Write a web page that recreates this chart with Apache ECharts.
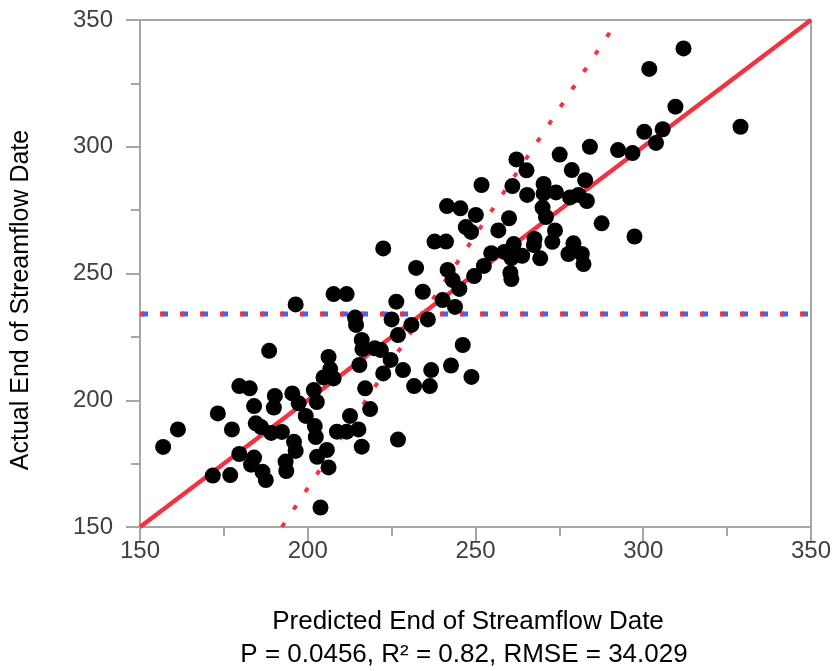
<!DOCTYPE html>
<html>
<head>
<meta charset="utf-8">
<script src="https://cdn.jsdelivr.net/npm/echarts@6/dist/echarts.min.js"></script>
<style>
html,body{margin:0;padding:0;background:#fff;}
#chart{width:834px;height:671px;}
</style>
</head>
<body>
<div id="chart"></div>
<script>
// Predicted (x) and Actual (y) end of streamflow dates
var predicted = [
 156.9,161.3,173.2,171.7,176.9,177.4,179.6,182.7,188.5,179.6,184.0,183.1,186.5,187.5,184.0,184.5,186.1,189.1,192.3,190.2,189.9,195.4,197.3,196.4,193.4,193.6,195.9,196.4,199.4,
 201.8,202.7,202.1,202.4,202.8,205.7,206.2,203.8,208.7,211.6,215.1,212.6,217.1,218.6,216.1,226.9,231.7,236.4,248.8,
 222.5,237.8,241.2,248.7,247.1,250.1,251.8,241.5,245.5,232.3,241.7,243.2,249.6,245.2,234.3,207.7,211.6,226.4,240.2,243.9,214.1,214.4,225.0,230.9,235.8,226.9,216.1,216.3,220.0,221.8,246.2,206.2,215.4,224.7,228.4,222.5,236.8,242.7,206.7,204.7,207.7,
 284.1,292.5,296.8,275.1,262.2,265.2,278.7,282.7,261.0,270.3,265.4,274.0,270.3,278.2,280.7,283.2,270.0,271.0,260.0,256.8,273.7,272.9,267.6,267.4,261.4,254.7,258.6,260.7,263.9,269.3,279.2,277.7,281.7,282.2,260.4,260.7,252.5,287.6,297.4,
 312.0,301.8,309.6,300.3,305.8,303.8,329.0
];
var actual = [
 181.6,188.5,194.8,170.3,170.5,188.5,205.6,204.7,219.5,178.8,177.4,174.6,171.8,168.5,197.7,190.9,189.4,187.1,187.5,201.7,197.1,202.7,198.8,237.8,175.8,172.1,183.6,180.0,193.8,
 204.0,199.3,189.8,185.5,177.7,180.4,173.5,157.7,187.6,187.6,188.5,193.8,204.7,196.5,181.7,184.5,205.6,205.6,209.2,
 259.9,262.6,262.6,266.4,268.3,273.1,284.9,276.6,275.7,252.2,251.4,247.4,249.0,243.9,242.8,241.9,241.9,238.9,239.5,236.8,232.6,229.7,231.9,229.7,231.9,225.7,223.8,220.2,220.5,219.8,221.8,217.1,213.9,215.9,211.9,210.6,211.9,213.7,212.3,209.0,208.6,
 300.0,298.7,297.5,296.9,295.0,290.7,290.8,286.8,284.5,285.3,281.0,282.0,281.6,280.0,281.0,278.6,276.0,272.3,271.8,267.0,267.0,262.5,263.6,261.2,261.6,258.0,258.5,256.1,257.0,256.0,261.9,257.7,257.7,253.7,250.2,247.8,253.0,269.8,264.6,
 338.8,330.7,315.8,305.9,306.9,301.5,307.9
];
// Fit line, confidence (dotted) line, and mean line endpoints
var fitX = [150, 350], fitY = [150, 350];
var confX = [192.3, 290], confY = [150, 345];
var meanX = [150, 350], meanY = [234, 234];
var xTicks = [150, 200, 250, 300, 350];
var yTicks = [150, 200, 250, 300, 350];
var xTitle = 'Predicted End of Streamflow Date';
var xSubtitle = 'P = 0.0456, R\u00B2 = 0.82, RMSE = 34.029';
var yTitle = 'Actual End of Streamflow Date';

function pairs(a, b){ return a.map(function(v,i){ return [v, b[i]]; }); }

var RED = '#f03343', BLUE = '#3a66ff', AXIS = '#a6a6a6', FONT = 'Liberation Sans';
var chart = echarts.init(document.getElementById('chart'), null, {renderer:'canvas'});
function axis(ticks, margin){
  return {
    type:'value', min:ticks[0], max:ticks[ticks.length-1], interval:50,
    axisLine:{show:true, onZero:false, lineStyle:{color:AXIS, width:2}},
    axisTick:{show:true, length:14, lineStyle:{color:AXIS, width:2}},
    minorTick:{show:true, splitNumber:2, length:9, lineStyle:{color:AXIS, width:2}},
    splitLine:{show:false},
    axisLabel:{fontSize:24, color:'#404040', fontFamily:FONT, margin:margin}
  };
}
chart.setOption({
  animation:false,
  backgroundColor:'#ffffff',
  grid:{left:140, right:18, top:20, bottom:144, show:true, borderColor:AXIS, borderWidth:2, backgroundColor:'#fff'},
  xAxis: axis(xTicks, 12),
  yAxis: axis(yTicks, 27),
  graphic:[
    {type:'text', x:21, y:300, rotation:Math.PI/2, style:{text:yTitle, font:'25px "Liberation Sans"', fill:'#000', textAlign:'center', textVerticalAlign:'middle'}},
    {type:'text', x:468, y:622, style:{text:xTitle, font:'26px "Liberation Sans"', fill:'#000', textAlign:'center', textVerticalAlign:'middle'}},
    {type:'text', x:464, y:655, style:{text:xSubtitle, font:'26px "Liberation Sans"', fill:'#000', textAlign:'center', textVerticalAlign:'middle'}}
  ],
  series:[
    {type:'line', data:pairs(meanX, meanY), symbol:'none', silent:true, z:2,
     lineStyle:{color:BLUE, width:5, type:[6,14], dashOffset:-2}},
    {type:'line', data:pairs(meanX, meanY), symbol:'none', silent:true, z:3,
     lineStyle:{color:RED, width:5, type:[4,16]}},
    {type:'line', data:pairs(confX, confY), symbol:'none', silent:true, z:3,
     lineStyle:{color:RED, width:4, type:[5,16]}},
    {type:'line', data:pairs(fitX, fitY), symbol:'none', silent:true, z:3,
     lineStyle:{color:RED, width:4.5}},
    {type:'scatter', data:pairs(predicted, actual), symbol:'circle', symbolSize:16, z:5,
     itemStyle:{color:'#000', opacity:1}}
  ]
});
</script>
</body>
</html>
